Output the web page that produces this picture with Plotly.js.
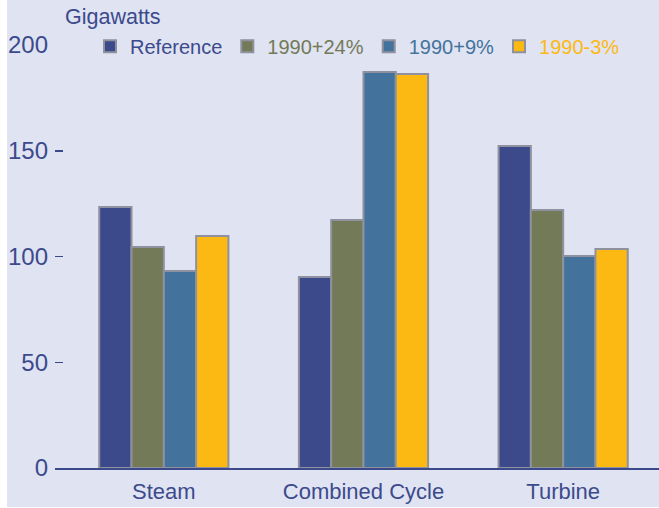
<!DOCTYPE html>
<html>
<head>
<meta charset="utf-8">
<script src="https://cdn.plot.ly/plotly-3.0.1.min.js"></script>
<style>
  html, body { margin: 0; padding: 0; background: #ffffff; }
  #chart { position: absolute; left: 7px; top: 0; width: 652px; height: 507px; }
</style>
</head>
<body>
<div id="chart"></div>
<script>
const categories = ["Steam", "Combined Cycle", "Turbine"];
const seriesNames = ["Reference", "1990+24%", "1990+9%", "1990-3%"];
const reference = [123.4, 90.3, 152.2];
const plus24 = [104.5, 117.3, 122.0];
const plus9 = [93.1, 187.2, 100.2];
const minus3 = [109.7, 186.3, 103.5];
const yTicks = [0, 50, 100, 150, 200];
const colors = ["#3C4A8C", "#737A57", "#43739C", "#FDB913"];

const seriesValues = [reference, plus24, plus9, minus3];
const FONT = "'Liberation Sans', Arial, sans-serif";

const traces = seriesValues.map((vals, i) => ({
  type: "bar",
  x: categories,
  y: vals,
  name: '<span style="color:' + colors[i] + '">' + seriesNames[i] + '</span>',
  marker: { color: colors[i], line: { color: "#8F929E", width: 2 } },
  hoverinfo: "y"
}));

const layout = {
  width: 652, height: 507,
  margin: { l: 48, r: 0, t: 45, b: 39, autoexpand: false },
  paper_bgcolor: "#DFE3F2",
  plot_bgcolor: "#DFE3F2",
  font: { family: FONT, size: 22, color: "#3C4A8C" },
  barmode: "group",
  bargap: 0.353,
  bargroupgap: 0,
  showlegend: true,
  legend: {
    orientation: "h",
    x: 0.058, xanchor: "left",
    y: 0.997, yanchor: "middle",
    bgcolor: "rgba(0,0,0,0)",
    font: { family: FONT, size: 20 },
    itemwidth: 30,
    traceorder: "normal"
  },
  xaxis: {
    type: "category",
    range: [-0.545, 2.48],
    showline: true, linecolor: "#3C4A8C", linewidth: 2,
    ticks: "", showgrid: false, zeroline: false,
    ticklabelstandoff: 3,
    tickfont: { family: FONT, size: 22, color: "#3C4A8C" },
    fixedrange: true
  },
  yaxis: {
    range: [0, 200],
    tickvals: yTicks,
    ticktext: yTicks.map(String),
    ticks: "inside", ticklen: 8, tickwidth: 1.5, tickcolor: "#3C4A8C",
    showgrid: false, zeroline: false, showline: false,
    ticklabelstandoff: 6,
    tickfont: { family: FONT, size: 24, color: "#3C4A8C" },
    fixedrange: true
  },
  annotations: [{
    text: "Gigawatts",
    xref: "paper", yref: "paper",
    x: 0.014, y: 1, yshift: 28,
    xanchor: "left", yanchor: "middle",
    showarrow: false,
    font: { family: FONT, size: 21.5, color: "#3C4A8C" }
  }]
};

Plotly.newPlot("chart", traces, layout, { displayModeBar: false, staticPlot: true });
</script>
</body>
</html>
